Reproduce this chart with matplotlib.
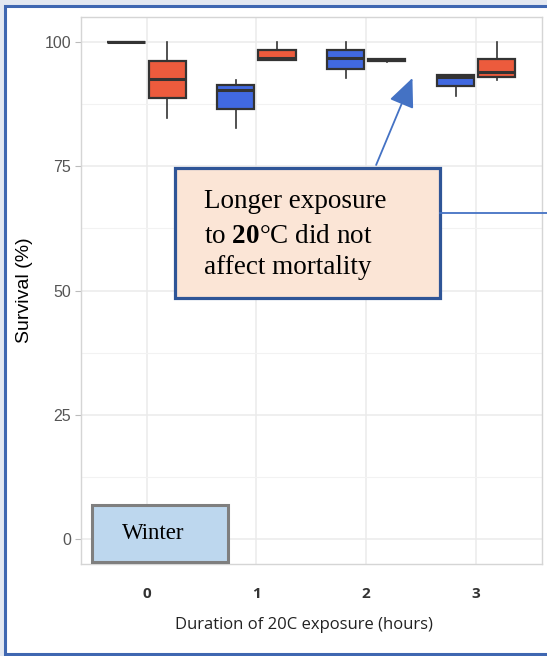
import matplotlib
matplotlib.use("Agg")
import matplotlib.pyplot as plt
import matplotlib.patches as mPatch
from matplotlib.lines import Line2D

# bold "20" in the callout should be serif too
plt.rcParams["mathtext.fontset"] = "custom"
plt.rcParams["mathtext.rm"] = "Liberation Serif"
plt.rcParams["mathtext.bf"] = "Liberation Serif:bold"

# Survival (%) per exposure duration
durations = [0, 1, 2, 3]
duration_labels = ["0", "1", "2", "3"]

# blue group
blue_med = [100, 90.2, 96.8, 92.8]
blue_q1 = [100, 86.4, 94.4, 91.0]
blue_q3 = [100, 91.2, 98.3, 93.3]
blue_lo = [100, 82.7, 92.6, 89.1]
blue_hi = [100, 92.3, 100, 93.3]

# red group
red_med = [92.4, 96.7, 96.4, 93.8]
red_q1 = [88.6, 96.4, 96.2, 92.8]
red_q3 = [96.2, 98.3, 96.6, 96.6]
red_lo = [84.7, 96.4, 95.9, 92.3]
red_hi = [100, 100, 96.6, 100]

BLUE = "#4169E1"
RED = "#EC5B3D"
DARK = "#333333"
W, H = 547, 656

def stats(med, q1, q3, lo, hi):
    return [dict(med=m, q1=a, q3=b, whislo=l, whishi=h, fliers=[])
            for m, a, b, l, h in zip(med, q1, q3, lo, hi)]

fig = plt.figure(figsize=(W / 100, H / 100), dpi=100)
fig.patch.set_facecolor("#E3E8F1")

# white page with blue frame (cut off on the right)
frame = mPatch.Rectangle((5 / W, 2.5 / H), 1.2, 648 / H, transform=fig.transFigure,
                         facecolor="white", edgecolor="#3F67B1", linewidth=2.2, zorder=-5)
fig.patches.append(frame)

ax = fig.add_axes([80.7 / W, 91.7 / H, (542 - 80.7) / W, (639.3 - 91.7) / H])
ax.set_facecolor("white")

dodge = 0.1875
width = 0.3375
common = dict(widths=width, patch_artist=True, showcaps=False, showfliers=False,
              medianprops=dict(color=DARK, linewidth=2.2),
              boxprops=dict(edgecolor=DARK, linewidth=1.6),
              whiskerprops=dict(color=DARK, linewidth=1.2), manage_ticks=False)

b1 = ax.bxp(stats(blue_med, blue_q1, blue_q3, blue_lo, blue_hi),
            positions=[d - dodge for d in durations], **common)
b2 = ax.bxp(stats(red_med, red_q1, red_q3, red_lo, red_hi),
            positions=[d + dodge for d in durations], **common)
for box in b1["boxes"]:
    box.set_facecolor(BLUE)
for box in b2["boxes"]:
    box.set_facecolor(RED)

ax.set_xlim(-0.6, 3.6)
ax.set_ylim(-5, 105)
ax.set_yticks([0, 25, 50, 75, 100])
ax.set_yticks([12.5, 37.5, 62.5, 87.5], minor=True)
ax.set_xticks(durations)
ax.set_xticklabels(duration_labels)
ax.grid(True, which="major", color="#EBEBEB", linewidth=1.1)
ax.grid(True, which="minor", axis="y", color="#F2F2F2", linewidth=0.8)
ax.set_axisbelow(True)
for s in ax.spines.values():
    s.set_color("#D5D5D5")
    s.set_linewidth(1)

ax.tick_params(axis="y", which="major", length=4, color="#BBBBBB", labelsize=11.5,
               labelcolor="#555555", pad=3)
ax.tick_params(axis="y", which="minor", length=0)
ax.tick_params(axis="x", length=0, pad=16, labelsize=11, labelcolor="#333333")
for lab in ax.get_xticklabels():
    lab.set_fontfamily("Open Sans")
    lab.set_fontweight("bold")
for lab in ax.get_yticklabels():
    lab.set_fontfamily("Liberation Sans")

ax.set_ylabel("Survival (%)", fontfamily="Liberation Sans", fontsize=14, labelpad=8)
ax.set_xlabel("Duration of 20C exposure (hours)", fontfamily="Open Sans",
              fontsize=12, color="#222222")
ax.xaxis.set_label_coords(0.483, -0.097)

# callout box
callout = mPatch.Rectangle((0.257, 48.4), 2.416, 26.3, facecolor="#FBE5D6",
                           edgecolor="#2F5597", linewidth=2.3, zorder=5, clip_on=False)
ax.add_patch(callout)
ax.annotate("", xy=(2.43, 93.2), xytext=(2.08, 74.7),
            arrowprops=dict(arrowstyle="-|>,head_length=1.8,head_width=0.8",
                            color="#4472C4", linewidth=1.3), zorder=6)
serif = "Liberation Serif"
ax.text(0.52, 66.6, "Longer exposure", fontfamily=serif, fontsize=19.5,
        va="baseline", zorder=7)
ax.text(0.52, 59.6, r"to $\mathbf{20}$°C did not", fontfamily=serif, fontsize=19.5,
        va="baseline", zorder=7)
ax.text(0.52, 53.4, "affect mortality", fontfamily=serif, fontsize=19.5,
        va="baseline", zorder=7)
fig.lines.append(Line2D([440 / W, 1.0], [1 - 213 / H, 1 - 213 / H], transform=fig.transFigure,
                        color="#4472C4", linewidth=1.3))

# season tag
tag = mPatch.Rectangle((-0.5, -4.53), 1.245, 11.35, facecolor="#BDD7EE",
                       edgecolor="#7F7F7F", linewidth=2.2, zorder=5)
ax.add_patch(tag)
ax.text(0.064, 1.1, "Winter", fontfamily=serif, fontsize=16.5, ha="center",
        va="center", zorder=6)

fig.savefig("out.png", dpi=100, facecolor=fig.get_facecolor())
